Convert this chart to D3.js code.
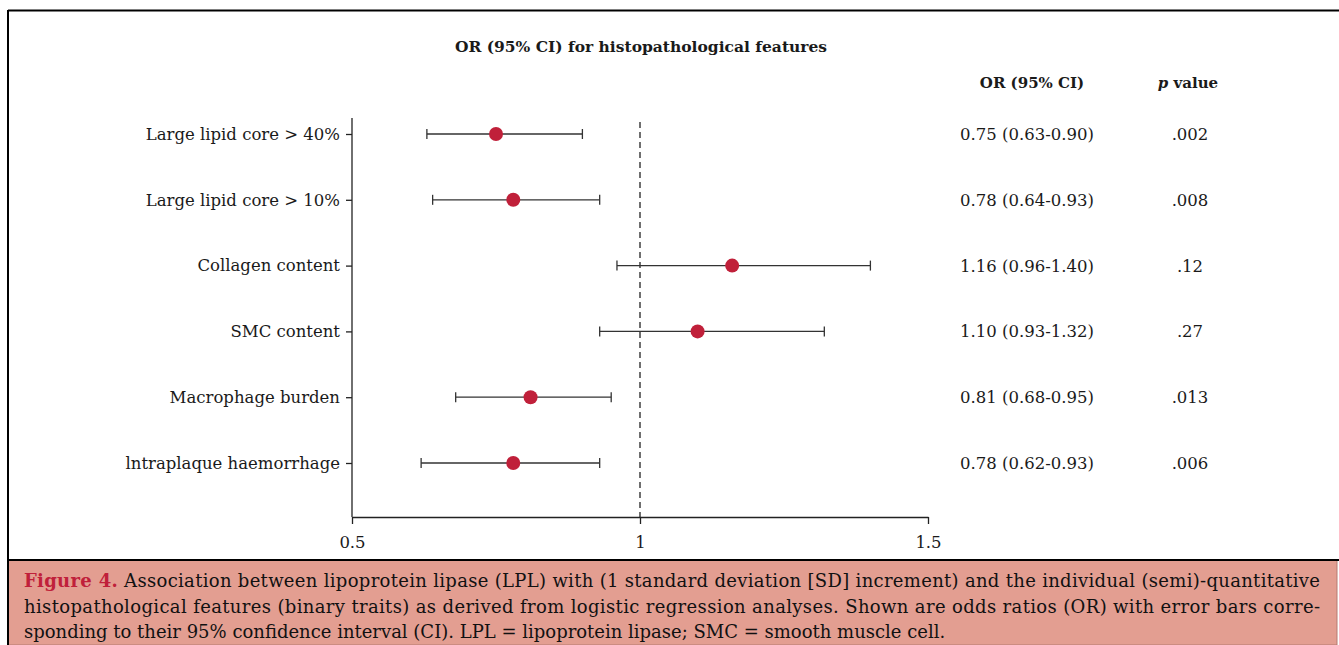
<!DOCTYPE html>
<html>
<head>
<meta charset="utf-8">
<script src="https://cdn.jsdelivr.net/npm/d3@7"></script>
<style>
  body { margin: 0; background: #fff; }
  svg { display: block; font-family: "DejaVu Serif", serif; }
</style>
</head>
<body>
<svg id="chart" width="1339" height="645"></svg>
<script>
"use strict";

// values
const features = [
  "Large lipid core > 40%",
  "Large lipid core > 10%",
  "Collagen content",
  "SMC content",
  "Macrophage burden",
  "lntraplaque haemorrhage",
];
const orValues = [0.75, 0.78, 1.16, 1.1, 0.81, 0.78];
const ciLow = [0.63, 0.64, 0.96, 0.93, 0.68, 0.62];
const ciHigh = [0.9, 0.93, 1.4, 1.32, 0.95, 0.93];
const orLabels = [
  "0.75 (0.63-0.90)",
  "0.78 (0.64-0.93)",
  "1.16 (0.96-1.40)",
  "1.10 (0.93-1.32)",
  "0.81 (0.68-0.95)",
  "0.78 (0.62-0.93)",
];
const pValues = [".002", ".008", ".12", ".27", ".013", ".006"];
const xTicks = [0.5, 1, 1.5];

const captionLines = [
  "Association between lipoprotein lipase (LPL) with (1 standard deviation [SD] increment) and the individual (semi)-quantitative",
  "histopathological features (binary traits) as derived from logistic regression analyses. Shown are odds ratios (OR) with error bars corre-",
  "sponding to their 95% confidence interval (CI). LPL = lipoprotein lipase; SMC = smooth muscle cell.",
];

const red = "#c0203a";
const ink = "#1a1a1a";
const svg = d3.select("#chart");

// frame + caption box
svg.append("rect").attr("x", 8).attr("y", 560).attr("width", 1329).attr("height", 85)
  .attr("fill", "#e39e91").attr("stroke", "#b57a70").attr("stroke-width", 1);
svg.append("line").attr("x1", 8).attr("x2", 1339).attr("y1", 10.5).attr("y2", 10.5)
  .attr("stroke", "#000").attr("stroke-width", 2);
svg.append("line").attr("x1", 8).attr("x2", 1339).attr("y1", 560).attr("y2", 560)
  .attr("stroke", "#000").attr("stroke-width", 2);
svg.append("line").attr("x1", 8).attr("x2", 8).attr("y1", 10).attr("y2", 645)
  .attr("stroke", "#000").attr("stroke-width", 2);

const x = d3.scaleLinear().domain([0.5, 1.5]).range([352, 928]);
const y = d3.scalePoint().domain(features).range([134, 463]);
const axisY = 517;

// title
svg.append("text").attr("x", 641).attr("y", 52).attr("text-anchor", "middle")
  .style("font-weight", "bold").style("font-size", "15.5px").attr("fill", ink)
  .text("OR (95% CI) for histopathological features");

// column headers
svg.append("text").attr("x", 1032).attr("y", 88).attr("text-anchor", "middle")
  .style("font-weight", "bold").style("font-size", "15px").attr("fill", ink)
  .text("OR (95% CI)");
const ph = svg.append("text").attr("x", 1188).attr("y", 88).attr("text-anchor", "middle")
  .style("font-weight", "bold").style("font-size", "15px").attr("fill", ink);
ph.append("tspan").style("font-style", "italic").text("p");
ph.append("tspan").text(" value");

// y axis
svg.append("line").attr("x1", 352).attr("x2", 352).attr("y1", 118).attr("y2", axisY)
  .attr("stroke", "#222").attr("stroke-width", 1.3);
const yAxis = svg.append("g").attr("transform", "translate(352,0)")
  .call(d3.axisLeft(y).tickSize(6).tickPadding(6));
yAxis.select(".domain").remove();
yAxis.selectAll("line").attr("stroke", "#222").attr("stroke-width", 1.3);
yAxis.selectAll("text").style("font-family", "DejaVu Serif").style("font-size", "16.5px").attr("fill", ink);

// x axis
const xAxis = svg.append("g").attr("transform", `translate(0,${axisY})`)
  .call(d3.axisBottom(x).tickValues(xTicks).tickFormat(d3.format("")).tickSize(7).tickSizeOuter(0).tickPadding(12));
xAxis.selectAll("line, path").attr("stroke", "#222").attr("stroke-width", 1.3);
xAxis.selectAll("text").style("font-family", "DejaVu Serif").style("font-size", "16.5px").attr("fill", ink);

// reference line at OR = 1
svg.append("line").attr("x1", x(1)).attr("x2", x(1)).attr("y1", 122).attr("y2", axisY)
  .attr("stroke", "#222").attr("stroke-width", 1.3).attr("stroke-dasharray", "6,4");

// error bars and points
const rows = svg.append("g").selectAll("g").data(features).join("g");
rows.append("line")
  .attr("x1", (d, i) => x(ciLow[i])).attr("x2", (d, i) => x(ciHigh[i]))
  .attr("y1", (d) => y(d)).attr("y2", (d) => y(d))
  .attr("stroke", "#333").attr("stroke-width", 1.3);
rows.append("line")
  .attr("x1", (d, i) => x(ciLow[i])).attr("x2", (d, i) => x(ciLow[i]))
  .attr("y1", (d) => y(d) - 5).attr("y2", (d) => y(d) + 5)
  .attr("stroke", "#333").attr("stroke-width", 1.3);
rows.append("line")
  .attr("x1", (d, i) => x(ciHigh[i])).attr("x2", (d, i) => x(ciHigh[i]))
  .attr("y1", (d) => y(d) - 5).attr("y2", (d) => y(d) + 5)
  .attr("stroke", "#333").attr("stroke-width", 1.3);
rows.append("circle")
  .attr("cx", (d, i) => x(orValues[i])).attr("cy", (d) => y(d)).attr("r", 7)
  .attr("fill", red);

// value columns
rows.append("text").attr("x", 1027).attr("y", (d) => y(d) + 6).attr("text-anchor", "middle")
  .style("font-size", "16.5px").attr("fill", ink).text((d, i) => orLabels[i]);
rows.append("text").attr("x", 1190).attr("y", (d) => y(d) + 6).attr("text-anchor", "middle")
  .style("font-size", "16.5px").attr("fill", ink).text((d, i) => pValues[i]);

// caption
const capY = [587, 613, 638];
captionLines.forEach((line, i) => {
  const t = svg.append("text").attr("x", 24).attr("y", capY[i])
    .style("font-size", "18px").attr("fill", "#111");
  if (i === 0) {
    t.append("tspan").attr("fill", red).style("font-weight", "bold").text("Figure 4.");
    t.append("tspan").text(" " + line);
  } else {
    t.text(line);
  }
  if (i < 2) t.attr("textLength", 1296).attr("lengthAdjust", "spacing");
});
</script>
</body>
</html>
